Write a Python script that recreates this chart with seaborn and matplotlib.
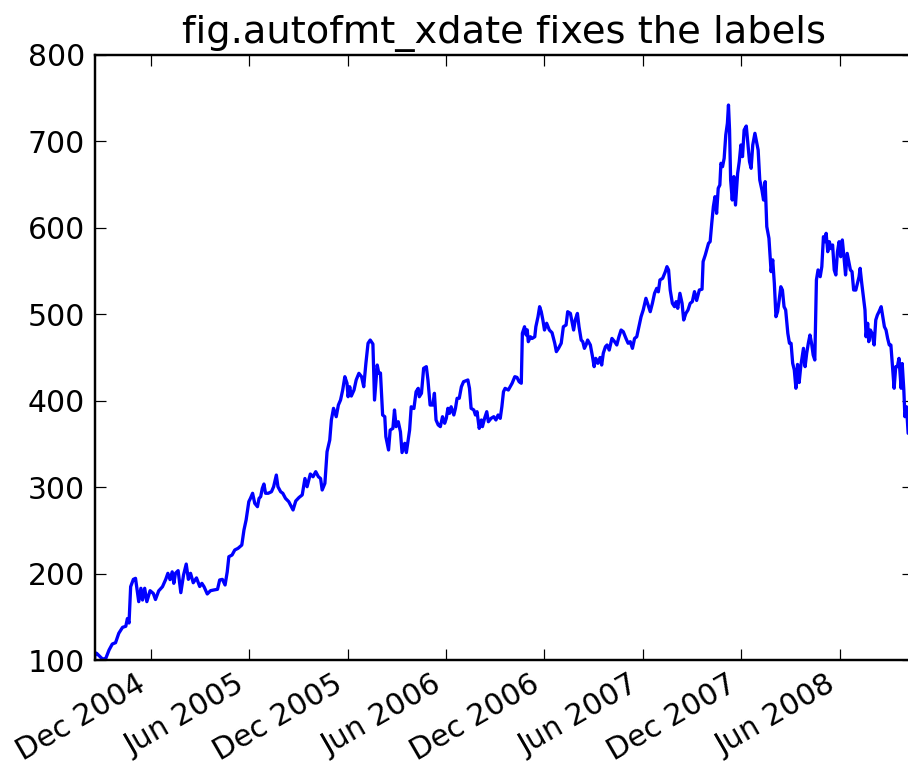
import matplotlib
matplotlib.use("Agg")
import matplotlib.pyplot as plt
import matplotlib.dates as mdates
import numpy as np
import pandas as pd
import seaborn as sns

# Closing prices, indexed by calendar days since the first trading session
listing_date = "2004-08-19"
day = [
    0, 1, 4, 15, 21, 27, 33, 39, 45, 52, 58, 61, 64, 67, 72, 76, 79, 82, 86, 89,
    93, 97, 103, 109, 113, 119, 126, 132, 136, 140, 144, 147, 150, 155, 160, 165, 170, 174, 178, 183,
    189, 195, 199, 203, 209, 215, 221, 228, 232, 237, 242, 246, 249, 255, 260, 266, 273, 277, 281, 286,
    289, 293, 297, 302, 305, 308, 311, 314, 317, 322, 328, 332, 337, 340, 345, 349, 354, 360, 368, 373,
    379, 385, 390, 394, 400, 405, 410, 415, 419, 422, 427, 431, 436, 439, 443, 448, 452, 456, 460, 464,
    468, 470, 473, 476, 481, 485, 490, 495, 499, 503, 507, 511, 516, 519, 524, 527, 530, 534, 538, 540,
    545, 548, 553, 556, 559, 563, 567, 570, 575, 578, 584, 587, 592, 596, 600, 602, 606, 610, 615, 618,
    622, 627, 630, 633, 637, 641, 645, 649, 652, 655, 658, 661, 666, 669, 672, 676, 680, 684, 689, 692,
    695, 698, 703, 706, 709, 713, 717, 719, 723, 727, 730, 735, 740, 744, 748, 752, 755, 758, 761, 767,
    774, 779, 783, 787, 791, 793, 797, 800, 802, 804, 808, 811, 816, 818, 822, 825, 828, 831, 834, 838,
    843, 848, 853, 856, 860, 865, 869, 874, 877, 882, 885, 888, 891, 895, 898, 902, 905, 908, 911, 914,
    919, 923, 926, 929, 933, 937, 940, 943, 947, 950, 954, 959, 964, 968, 972, 976, 980, 985, 989, 993,
    997, 1001, 1005, 1009, 1013, 1017, 1022, 1026, 1030, 1034, 1038, 1042, 1045, 1048, 1053, 1058, 1061, 1064, 1067, 1071,
    1075, 1078, 1081, 1085, 1089, 1092, 1096, 1100, 1104, 1108, 1112, 1116, 1121, 1126, 1128, 1132, 1138, 1141, 1144, 1147,
    1150, 1153, 1156, 1159, 1161, 1164, 1167, 1170, 1173, 1175, 1177, 1179, 1182, 1185, 1188, 1192, 1195, 1198, 1201, 1204,
    1208, 1211, 1214, 1217, 1220, 1224, 1227, 1230, 1233, 1237, 1240, 1243, 1246, 1250, 1254, 1257, 1260, 1263, 1266, 1269,
    1272, 1275, 1278, 1281, 1285, 1288, 1291, 1294, 1297, 1300, 1303, 1306, 1309, 1314, 1317, 1320, 1323, 1326, 1329, 1332,
    1335, 1338, 1341, 1345, 1348, 1351, 1354, 1356, 1359, 1362, 1365, 1368, 1371, 1374, 1377, 1380, 1383, 1386, 1389, 1392,
    1395, 1398, 1401, 1404, 1407, 1411, 1414, 1417, 1419, 1422, 1425, 1428, 1430, 1433, 1435, 1438, 1441, 1445, 1448, 1451,
    1454, 1458, 1461, 1464, 1467, 1470, 1473, 1476, 1479, 1482, 1485, 1488, 1491, 1495, 1497, 1500, 1502, 1505, 1508,
]
close = [
    100.3, 108.3, 107.7, 101.0, 102.0, 111.6, 118.5, 120.0, 130.9, 137.8, 139.0, 148.0, 142.8, 184.8, 193.3, 194.5, 181.0, 167.5, 183.0, 169.4,
    183.0, 167.5, 180.2, 177.0, 170.0, 180.0, 184.8, 193.3, 200.3, 193.0, 202.0, 188.7, 200.3, 203.4, 177.9, 198.3, 211.0, 193.3, 200.3, 189.4,
    195.0, 185.0, 188.7, 184.8, 176.4, 180.2, 181.0, 181.8, 192.6, 193.3, 186.8, 202.0, 219.5, 221.5, 227.3, 229.2, 233.0, 250.4, 262.0, 283.2,
    287.0, 292.9, 281.3, 277.4, 287.0, 289.0, 298.6, 303.6, 292.9, 292.9, 294.7, 300.5, 314.0, 300.5, 294.7, 292.9, 287.0, 283.2, 273.6, 284.0,
    288.0, 291.0, 310.0, 300.5, 315.2, 312.0, 317.9, 312.0, 310.0, 296.7, 304.4, 341.0, 354.5, 377.7, 391.2, 381.5, 395.0, 400.8, 412.4, 427.8,
    420.2, 404.6, 416.2, 405.4, 412.4, 424.0, 431.7, 427.8, 416.2, 443.3, 466.5, 470.2, 465.6, 400.8, 441.3, 431.7, 432.0, 383.5, 381.5, 358.4,
    343.0, 366.0, 368.0, 389.3, 370.0, 375.7, 364.0, 340.0, 350.7, 340.0, 366.0, 393.0, 391.0, 410.4, 414.3, 404.6, 408.6, 437.5, 439.4, 424.0,
    395.0, 395.0, 408.6, 377.7, 372.0, 370.0, 381.5, 373.9, 379.6, 391.2, 385.4, 393.0, 383.5, 391.2, 402.8, 402.8, 416.2, 422.0, 423.2, 424.0,
    414.3, 391.2, 389.3, 383.5, 387.3, 368.0, 377.7, 370.0, 379.6, 387.3, 375.7, 379.6, 381.5, 377.7, 383.5, 379.6, 393.0, 410.4, 414.3, 412.4,
    420.2, 427.8, 427.0, 422.0, 420.2, 478.0, 485.6, 476.0, 482.0, 468.3, 474.0, 472.0, 474.0, 485.6, 497.2, 508.8, 503.0, 493.4, 481.8, 489.6,
    481.8, 478.7, 466.5, 456.8, 460.6, 466.5, 485.6, 487.6, 503.0, 501.0, 491.4, 481.8, 493.4, 501.0, 485.6, 470.2, 468.3, 460.6, 464.5, 470.2,
    464.5, 451.0, 439.4, 449.0, 443.3, 450.0, 441.3, 455.0, 462.5, 464.5, 458.6, 472.1, 468.3, 464.5, 474.0, 481.8, 479.9, 472.1, 466.5, 468.3,
    460.6, 472.1, 474.0, 485.6, 497.2, 505.0, 518.5, 510.7, 503.0, 512.7, 524.3, 530.0, 526.0, 539.7, 541.6, 549.3, 555.1, 551.3, 528.1, 512.7,
    508.8, 514.6, 506.9, 524.3, 512.7, 493.4, 501.0, 505.0, 512.7, 514.6, 526.2, 516.0, 528.1, 529.0, 561.0, 568.6, 582.1, 584.0, 605.3, 624.6,
    636.1, 616.8, 645.8, 649.6, 674.7, 670.8, 680.5, 707.5, 721.0, 742.1, 713.2, 655.4, 632.2, 659.3, 626.4, 663.1, 676.6, 695.9, 682.4, 713.2,
    717.8, 697.8, 676.6, 668.9, 695.9, 709.4, 699.7, 690.0, 655.4, 643.8, 632.2, 653.5, 601.4, 587.9, 549.3, 563.0, 535.9, 497.2, 503.0, 516.5,
    531.9, 528.0, 508.8, 505.0, 478.0, 466.5, 466.5, 443.3, 435.5, 414.4, 442.0, 421.0, 440.0, 460.6, 439.4, 455.0, 466.5, 476.0, 466.5, 452.9,
    447.1, 539.7, 551.3, 543.5, 555.1, 589.8, 584.0, 593.7, 572.4, 584.0, 576.0, 580.2, 551.3, 545.5, 572.4, 584.0, 566.6, 586.0, 566.6, 545.5,
    570.5, 560.9, 551.3, 549.3, 528.1, 528.0, 535.9, 543.5, 553.2, 535.9, 520.4, 505.0, 474.0, 489.6, 468.3, 481.8, 478.0, 464.5, 493.4, 499.2,
    503.0, 508.8, 497.2, 485.6, 481.8, 472.1, 464.5, 464.5, 439.4, 414.4, 439.4, 439.4, 449.0, 414.4, 443.0, 412.4, 381.5, 393.0, 362.3,
]
last_session = "2008-10-14"
y_ticks = [100, 200, 300, 400, 500, 600, 700, 800]
title = "fig.autofmt_xdate fixes the labels"

sns.set_theme(style="white")
plt.rcParams.update({
    "font.family": ["DejaVu Sans"],
    "font.size": 12.3,
    "axes.edgecolor": "black",
    "axes.linewidth": 1.0,
    "xtick.direction": "in",
    "ytick.direction": "in",
    "xtick.top": True,
    "ytick.right": True,
    "xtick.bottom": True,
    "ytick.left": True,
    "xtick.major.size": 4.5,
    "ytick.major.size": 4.5,
    "xtick.major.width": 0.5,
    "ytick.major.width": 0.5,
    "xtick.major.pad": 4,
    "ytick.major.pad": 4,
    "xtick.labelsize": 12.3,
    "ytick.labelsize": 12.3,
    "xtick.color": "black",
    "ytick.color": "black",
    "text.color": "black",
})

df = pd.DataFrame({
    "date": pd.Timestamp(listing_date) + pd.to_timedelta(day, unit="D"),
    "close": close,
})

dpi = 175
fig = plt.figure(figsize=(908 / dpi, 770 / dpi), dpi=dpi, facecolor="white")
ax = fig.add_axes([94.5 / 908, 110 / 770, (913 - 94.5) / 908, 605 / 770])

sns.lineplot(data=df, x="date", y="close", ax=ax, color="#0000ff", linewidth=1.35)

ax.set_xlim(pd.Timestamp(listing_date), pd.Timestamp(last_session))
ax.set_ylim(y_ticks[0], y_ticks[-1])
ax.set_yticks(y_ticks)
ax.xaxis.set_major_locator(mdates.MonthLocator(bymonth=[6, 12]))
ax.xaxis.set_major_formatter(mdates.DateFormatter("%b %Y"))
ax.set_xlabel("")
ax.set_ylabel("")
ax.set_title(title, fontsize=15.8, pad=5)
ax.grid(False)
for side in ["left", "right", "top", "bottom"]:
    ax.spines[side].set_visible(True)
    ax.spines[side].set_color("black")

fig.autofmt_xdate()
fig.savefig("out.png", dpi=dpi, facecolor="white")
